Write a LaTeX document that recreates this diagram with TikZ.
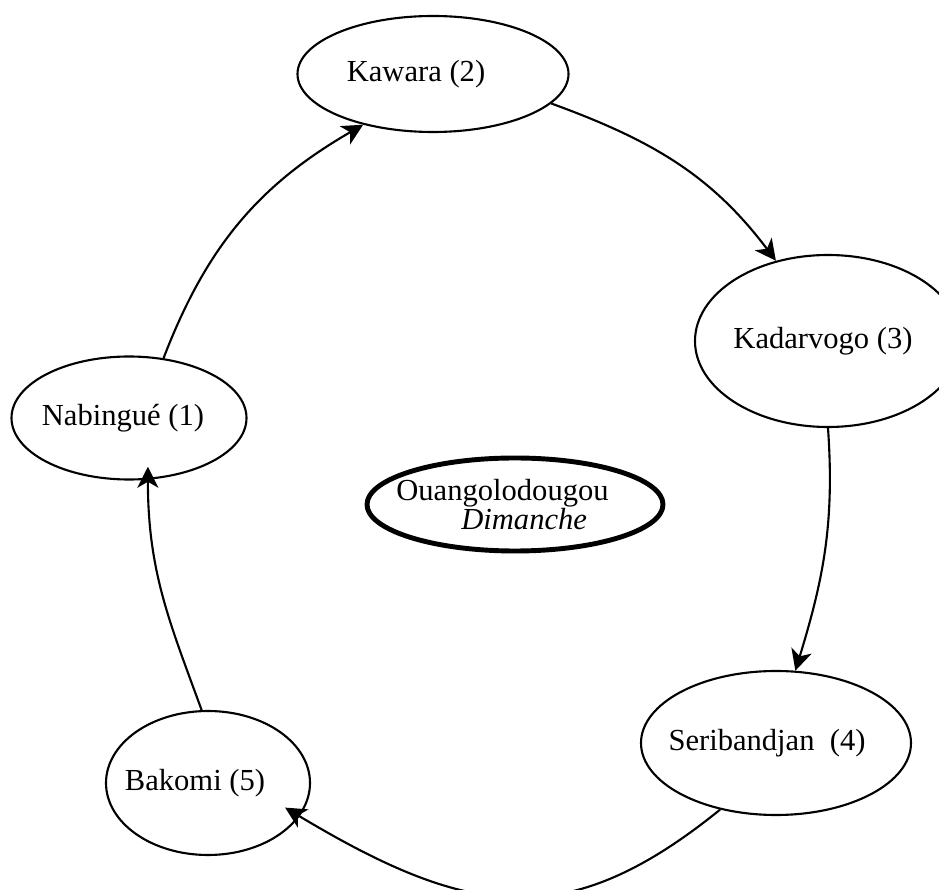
\documentclass[tikz,border=0pt]{standalone}
\usepackage{fontspec}
\setmainfont{Liberation Serif}
\usetikzlibrary{shapes.geometric,arrows.meta}

\begin{document}
\begin{tikzpicture}[scale=1,line width=1.2pt,
	village/.style ={ellipse, draw, inner xsep=-1cm, inner ysep=0pt, font=\fontsize{17.4}{21}\selectfont},
	market/.style ={village, line width=2.8pt, align=left, font=\fontsize{17.4}{13.7}\selectfont},
	>={Stealth[length=0.42cm,width=0.42cm,inset=0.12cm]}]
		\useasboundingbox (0,0) rectangle (18.78,17.8);
		\clip (0,0) rectangle (18.78,17.8);
		\node[village, minimum width=4.7cm, minimum height=2.46cm] (nab) at (2.58,9.44) {Nabingué (1)\hspace*{0.24cm}};
		\node[village, minimum width=5.42cm, minimum height=2.32cm] (kaw) at (8.66,16.32) {Kawara (2)\hspace*{0.68cm}};
		\node[village, minimum width=5.32cm, minimum height=3.44cm] (kad) at (16.56,10.98) {Kadarvogo (3)\hspace*{0.2cm}};
		\node[village, minimum width=5.4cm, minimum height=2.88cm] (seri) at (15.52,2.94) {Seribandjan~ (4)\hspace*{0.36cm}};
		\node[village, minimum width=4.08cm, minimum height=2.88cm] (bak) at (4.16,2.14) {Bakomi (5)\hspace*{0.52cm}};
		\node[market, minimum width=5.92cm, minimum height=1.86cm] (ouang) at (10.3,7.71) {Ouangolodougou\hspace*{0.5cm}\\\hspace*{1.3cm}\textit{Dimanche}};
		\draw[->] (nab.60) to[out=69,in=210] (kaw.216);
		\draw[->] (kaw.346) to[out=-20,in=127] (kad.123);
		\draw[->] (kad.-90) to[out=-86,in=73] (seri.75);
		\draw[->,shorten >=-0.34cm] (seri.230) to[out=219,in=329,looseness=1.2] (bak.-20);
		\draw[->,shorten >=-0.26cm] (bak.95) to[out=110,in=-90] (nab.-73);
	\end{tikzpicture}
\end{document}
